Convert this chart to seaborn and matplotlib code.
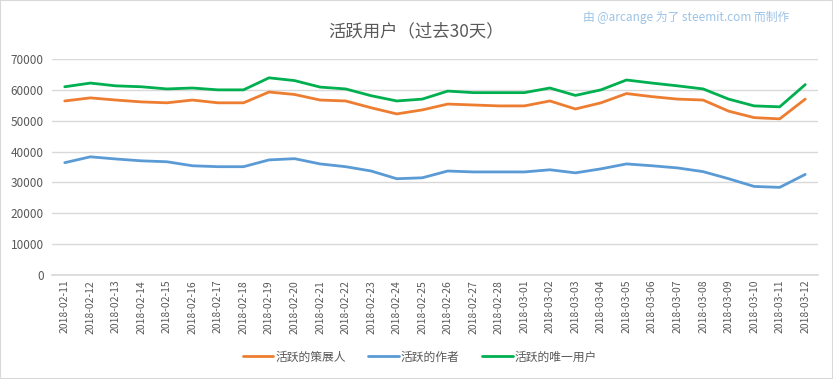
import pandas as pd
import matplotlib.pyplot as plt
import seaborn as sns
from matplotlib.patches import Rectangle

# Data
dates = pd.date_range("2018-02-11", "2018-03-12").strftime("%Y-%m-%d").tolist()

curators = [56400, 57400, 56700, 56100, 55800, 56700, 55800, 55800, 59300, 58500,
            56700, 56400, 54200, 52200, 53500, 55400, 55100, 54800, 54800, 56400,
            53800, 55800, 58800, 57800, 57000, 56700, 53100, 51000, 50600, 57000]
authors = [36400, 38300, 37600, 37000, 36700, 35400, 35100, 35100, 37300, 37700,
           36000, 35100, 33700, 31200, 31500, 33700, 33400, 33400, 33400, 34100,
           33100, 34400, 36000, 35400, 34700, 33500, 31200, 28700, 28400, 32600]
unique_users = [61000, 62200, 61300, 61000, 60300, 60600, 60000, 60000, 63900, 63000,
                60900, 60300, 58100, 56400, 57000, 59600, 59100, 59100, 59100, 60600,
                58200, 60000, 63200, 62200, 61300, 60300, 57000, 54800, 54500, 61700]

series_names = ["活跃的策展人", "活跃的作者", "活跃的唯一用户"]
colors = ["#ED7D31", "#5B9BD5", "#00B050"]

df = pd.concat([
    pd.DataFrame({"date": dates, "value": vals, "series": name})
    for name, vals in zip(series_names, [curators, authors, unique_users])
])

sns.set_theme(style="white")
plt.rcParams["font.family"] = ["Noto Sans CJK SC", "DejaVu Sans"]

fig = plt.figure(figsize=(8.33, 3.79), dpi=100)
ax = fig.add_axes([52 / 833, 1 - 275 / 379, 766 / 833, 216 / 379])

sns.lineplot(data=df, x="date", y="value", hue="series", palette=colors,
             hue_order=series_names, linewidth=2, ax=ax, sort=False)

ax.set_ylim(0, 70000)
ax.set_xlim(-0.5, len(dates) - 0.5)
ax.set_yticks(range(0, 70001, 10000))
ax.yaxis.grid(True, color="#D9D9D9", linewidth=1)
ax.set_axisbelow(True)
for side in ["top", "right", "left"]:
    ax.spines[side].set_visible(False)
ax.spines["bottom"].set_color("#D9D9D9")
ax.tick_params(axis="both", length=0, colors="#595959")
ax.tick_params(axis="y", labelsize=8.5, pad=6)
ax.set_xticks(range(len(dates)))
ax.set_xticklabels(dates, rotation=90, fontsize=7.5)
ax.set_xlabel("")
ax.set_ylabel("")

ax.legend(loc="center", bbox_to_anchor=(0.48, -0.38), ncol=3, frameon=False,
          fontsize=8.5, handlelength=2.6, handletextpad=0.15, columnspacing=1.9,
          labelcolor="#595959")

fig.text(0.5, 0.918, "活跃用户（过去30天）", ha="center", va="center",
         fontsize=12.5, color="#595959")
fig.text(0.947, 0.953, "由 @arcange 为了 steemit.com 而制作", ha="right", va="center",
         fontsize=8.5, color="#9DC3E6")

fig.add_artist(Rectangle((0, 0), 1, 1, transform=fig.transFigure, fill=False,
                         edgecolor="#D9D9D9", linewidth=1.5))

fig.savefig("out.png", dpi=100)
